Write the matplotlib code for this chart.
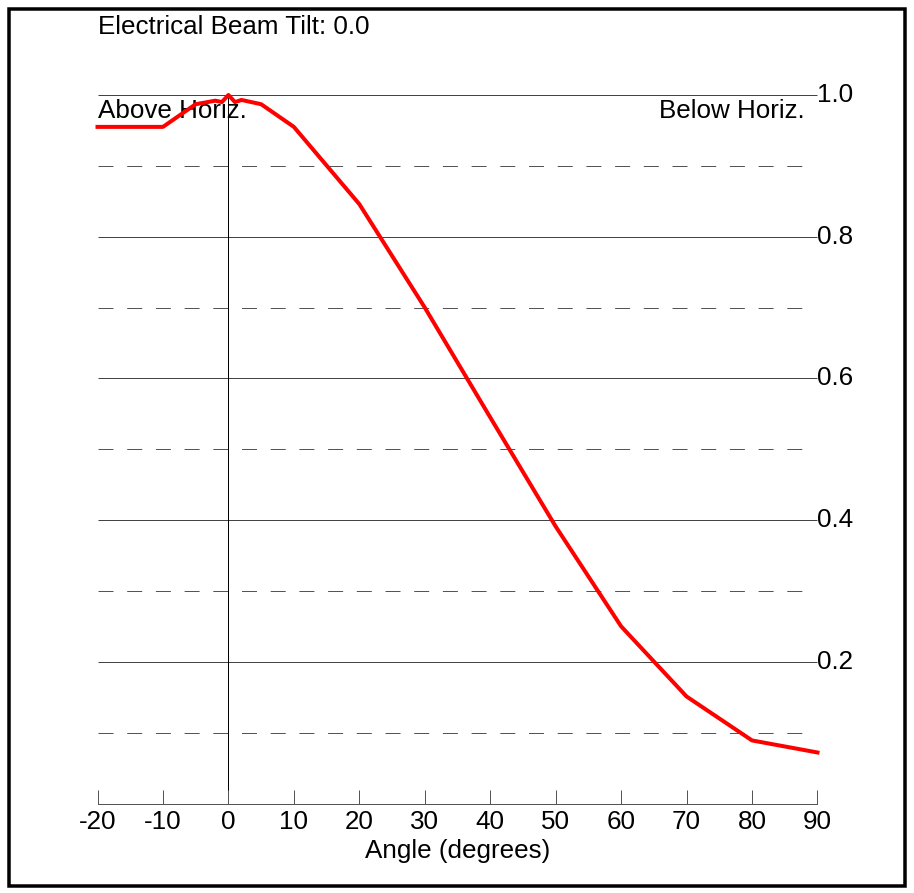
import matplotlib
matplotlib.use("Agg")
import matplotlib.pyplot as plt
from matplotlib.patches import Rectangle

# Elevation pattern (normalised field) versus angle below horizon
angles = [-20, -10, -5, -2, -1, 0, 1, 2, 5, 10, 20, 30, 40, 50, 60, 70, 80, 90]
relative_field = [0.955, 0.955, 0.987, 0.992, 0.990, 1.000, 0.990, 0.993, 0.987,
                  0.955, 0.846, 0.700, 0.545, 0.391, 0.250, 0.151, 0.089, 0.072]

x_ticks = [-20, -10, 0, 10, 20, 30, 40, 50, 60, 70, 80, 90]
x_tick_labels = ["-20", "-10", "0", "10", "20", "30", "40", "50", "60", "70", "80", "90"]
major_levels = [0.2, 0.4, 0.6, 0.8, 1.0]
major_labels = ["0.2", "0.4", "0.6", "0.8", "1.0"]
minor_levels = [0.1, 0.3, 0.5, 0.7, 0.9]

title_text = "Electrical Beam Tilt: 0.0"
x_label = "Angle (degrees)"

W, H = 914, 893
plt.rcParams["font.family"] = ["Liberation Sans", "DejaVu Sans"]
plt.rcParams["lines.scale_dashes"] = False
FS = 18.7
PX = 0.72  # points per pixel at 100 dpi

fig = plt.figure(figsize=(W / 100, H / 100), dpi=100)
fig.patch.set_facecolor("white")

# plot area in pixel coordinates
x0, x1 = 97.5, 817.5
y_top, y_bot = 95.0, 803.5
ax = fig.add_axes([x0 / W, 1 - y_bot / H, (x1 - x0) / W, (y_bot - y_top) / H])
ax.set_xlim(-20, 90)
ax.set_ylim(0, 1.0)
ax.patch.set_alpha(0)

for s in ("top", "left", "right"):
    ax.spines[s].set_visible(False)
ax.spines["bottom"].set_color("#555555")
ax.spines["bottom"].set_linewidth(1 * PX)

ax.set_xticks(x_ticks)
ax.set_xticklabels(x_tick_labels, fontsize=FS)
ax.tick_params(axis="x", direction="in", length=14 * PX, width=1 * PX,
               color="#555555", pad=5)
ax.set_yticks([])
ax.set_xlabel(x_label, fontsize=FS, labelpad=3)

# horizontal reference lines
ax.hlines(major_levels, -20, 90, colors="#444444", linewidth=1 * PX, zorder=1)
ax.hlines(minor_levels, -20, 88, colors="#555555", linewidth=1 * PX,
          linestyles=(0, (15 * PX, 13.7 * PX)), zorder=1)
ax.vlines([0], 0, 1.0, colors="black", linewidth=1 * PX, zorder=1)

for v, lab in zip(major_levels, major_labels):
    ax.text(90, v, lab, ha="left", va="center", fontsize=FS, clip_on=False)

ax.plot(angles, relative_field, color="#ff0000", linewidth=4 * PX,
        clip_on=False, zorder=3)

ax.text(-20, 0.995, "Above Horiz.", ha="left", va="top", fontsize=FS, zorder=2)
ax.text(88, 0.995, "Below Horiz.", ha="right", va="top", fontsize=FS, zorder=2)

fig.text(98 / W, 1 - 34 / H, title_text, ha="left", va="baseline", fontsize=FS)

# outer frame
fig.patches.append(Rectangle((9 / W, 1 - 886 / H), 896 / W, 877 / H,
                             transform=fig.transFigure, fill=False,
                             edgecolor="black", linewidth=3.5 * PX))

fig.savefig("out.png", dpi=100, facecolor="white")
